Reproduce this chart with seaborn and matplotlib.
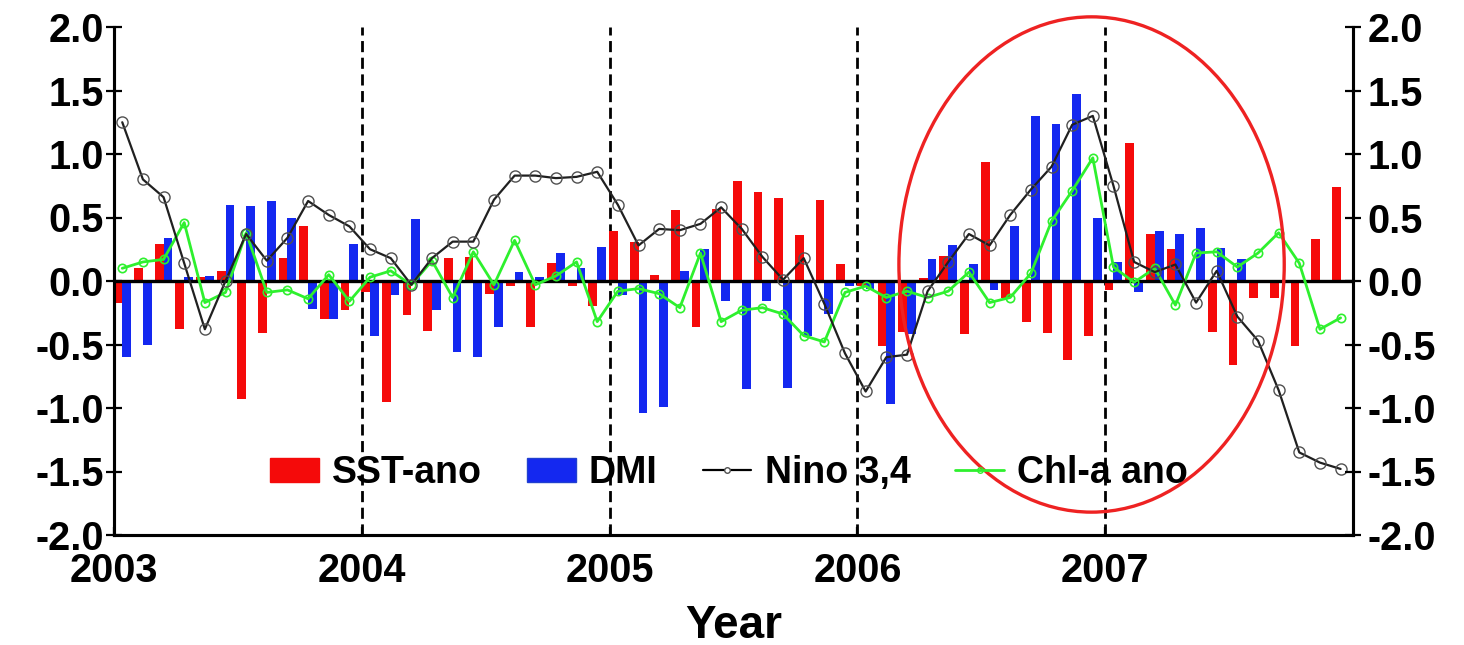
import numpy as np
import pandas as pd
import matplotlib
matplotlib.use("Agg")
import matplotlib.pyplot as plt
import seaborn as sns
from matplotlib.patches import Ellipse, Patch
from matplotlib.lines import Line2D

# ---------------- data (monthly, Jan 2003 - Dec 2007) ----------------
years = [2003, 2004, 2005, 2006, 2007]
year_labels = ["2003", "2004", "2005", "2006", "2007"]
y_ticks = [-2.0, -1.5, -1.0, -0.5, 0.0, 0.5, 1.0, 1.5, 2.0]
y_tick_labels = ["-2.0", "-1.5", "-1.0", "-0.5", "0.0", "0.5", "1.0", "1.5", "2.0"]

sst_ano = [-0.17, 0.10, 0.29, -0.38, 0.03, 0.08, -0.93, -0.41, 0.18, 0.43, -0.30, -0.23,
           -0.09, -0.95, -0.27, -0.39, 0.18, 0.19, -0.10, -0.04, -0.36, 0.14, -0.04, -0.20,
           0.39, 0.31, 0.05, 0.56, -0.36, 0.57, 0.79, 0.70, 0.65, 0.36, 0.64, 0.13,
           -0.04, -0.51, -0.40, 0.02, 0.20, -0.42, 0.94, -0.13, -0.32, -0.41, -0.62, -0.43,
           -0.07, 1.09, 0.37, 0.25, 0.00, -0.40, -0.66, -0.13, -0.13, -0.51, 0.33, 0.74]

dmi = [-0.60, -0.50, 0.34, 0.03, 0.04, 0.60, 0.59, 0.63, 0.50, -0.22, -0.30, 0.29,
       -0.43, -0.11, 0.49, -0.23, -0.56, -0.60, -0.36, 0.07, 0.03, 0.22, 0.10, 0.27,
       -0.11, -1.04, -0.99, 0.08, 0.25, -0.16, -0.85, -0.16, -0.84, -0.43, -0.26, -0.04,
       -0.06, -0.97, -0.42, 0.17, 0.28, 0.13, -0.07, 0.43, 1.30, 1.24, 1.47, 0.50,
       0.15, -0.09, 0.39, 0.37, 0.42, 0.26, 0.17, 0.0, 0.0, 0.0, 0.0, 0.0]

nino34 = [1.25, 0.80, 0.66, 0.14, -0.38, 0.00, 0.37, 0.16, 0.34, 0.63, 0.52, 0.43,
          0.25, 0.18, -0.03, 0.18, 0.31, 0.31, 0.64, 0.83, 0.83, 0.81, 0.82, 0.86,
          0.60, 0.28, 0.41, 0.40, 0.45, 0.58, 0.41, 0.19, 0.01, 0.18, -0.18, -0.57,
          -0.87, -0.60, -0.58, -0.08, 0.15, 0.37, 0.28, 0.52, 0.72, 0.90, 1.23, 1.30,
          0.75, 0.15, 0.07, 0.13, -0.17, 0.08, -0.28, -0.47, -0.86, -1.35, -1.43, -1.48]

chl_ano = [0.10, 0.15, 0.17, 0.46, -0.17, -0.09, 0.38, -0.09, -0.07, -0.14, 0.05, -0.16,
           0.03, 0.08, -0.03, 0.16, -0.13, 0.23, -0.03, 0.32, -0.03, 0.04, 0.15, -0.32,
           -0.08, -0.06, -0.10, -0.21, 0.22, -0.32, -0.23, -0.21, -0.26, -0.43, -0.48, -0.09,
           -0.04, -0.13, -0.08, -0.13, -0.08, 0.07, -0.17, -0.13, 0.06, 0.47, 0.71, 0.97,
           0.11, -0.01, 0.10, -0.19, 0.22, 0.23, 0.11, 0.22, 0.38, 0.14, -0.38, -0.29]

n = len(sst_ano)
time = [2003 + (i + 0.4) / 12.0 for i in range(n)]

bars = pd.DataFrame({
    "time": time * 2,
    "value": sst_ano + dmi,
    "series": ["SST-ano"] * n + ["DMI"] * n,
})

RED = "#f50a0a"
BLUE = "#1428f0"
GREEN = "#2ef02e"

# ---------------- figure ----------------
sns.set_style("ticks")
plt.rcParams["font.family"] = ["Liberation Sans", "DejaVu Sans"]
plt.rcParams["text.color"] = "black"
plt.rcParams["xtick.color"] = "black"
plt.rcParams["ytick.color"] = "black"
plt.rcParams["axes.labelcolor"] = "black"

W, H = 1464, 645
fig = plt.figure(figsize=(W / 100, H / 100), dpi=100)
ax = fig.add_axes([114 / W, 110 / H, 1239 / W, 508 / H])

sns.barplot(data=bars, x="time", y="value", hue="series", native_scale=True,
            palette={"SST-ano": RED, "DMI": BLUE}, width=0.85, dodge=True,
            saturation=1, errorbar=None, legend=False, ax=ax, zorder=2,
            linewidth=0)

sns.lineplot(x=time, y=chl_ano, ax=ax, color=GREEN, lw=2.0, marker="o",
             markersize=6, markerfacecolor="none", markeredgecolor=GREEN,
             markeredgewidth=1.2, zorder=4)
sns.lineplot(x=time, y=nino34, ax=ax, color="#202020", lw=1.6, marker="o",
             markersize=8, markerfacecolor="none", markeredgecolor="#505050",
             markeredgewidth=1.0, zorder=5)

# zero line and year separators
ax.axhline(0, color="black", lw=2.4, zorder=3)
for yv in years[1:]:
    ax.axvline(yv, color="black", lw=2.0, ls=(0, (4, 2)), zorder=1)

ax.set_xlim(2003, 2008)
ax.set_ylim(-2.0, 2.0)
ax.set_xticks(years)
ax.set_xticklabels(year_labels)
ax.set_yticks(y_ticks)
ax.set_yticklabels(y_tick_labels)

for lab in ax.get_xticklabels() + ax.get_yticklabels():
    lab.set_fontweight("bold")
    lab.set_fontsize(28.5)
    lab.set_color("black")

ax.tick_params(axis="y", direction="inout", length=11, width=1.6, pad=2)
ax.tick_params(axis="x", direction="in", length=6, width=1.6, pad=12)
ax.set_xlabel("Year", fontsize=33, fontweight="bold", labelpad=10, color="black")
ax.set_ylabel("")

ax2 = ax.twinx()
ax2.set_ylim(-2.0, 2.0)
ax2.set_yticks(y_ticks)
ax2.set_yticklabels(y_tick_labels, fontsize=28.5, fontweight="bold", color="black")
ax2.tick_params(axis="y", direction="inout", length=11, width=1.6, pad=5)

for a in (ax, ax2):
    a.spines["top"].set_visible(False)
    for s in ("left", "right", "bottom"):
        a.spines[s].set_linewidth(2.2)
        a.spines[s].set_color("black")

# red ellipse highlighting 2006-2007
ell = Ellipse((2006.945, 0.13), width=1.555, height=3.9, fill=False,
              edgecolor="#ee2222", lw=2.4, clip_on=False, zorder=6)
ax.add_patch(ell)

handles = [
    Patch(facecolor=RED, edgecolor=RED),
    Patch(facecolor=BLUE, edgecolor="#2040d0"),
    Line2D([], [], color="black", lw=1.6, marker="o", markersize=4,
           markerfacecolor="white", markeredgecolor="#505050"),
    Line2D([], [], color=GREEN, lw=2.0, marker="o", markersize=4,
           markerfacecolor="none", markeredgecolor=GREEN),
]
labels = ["SST-ano", "DMI", "Nino 3,4", "Chl-a ano"]
leg = ax.legend(handles, labels, loc="center", bbox_to_anchor=(0.4965, 0.122),
                ncol=4, frameon=False, prop={"size": 27, "weight": "bold"},
                handlelength=1.3, handleheight=0.6, handletextpad=0.35,
                columnspacing=1.2, borderpad=0)
leg.set_zorder(7)

fig.savefig("out.png", dpi=100)
